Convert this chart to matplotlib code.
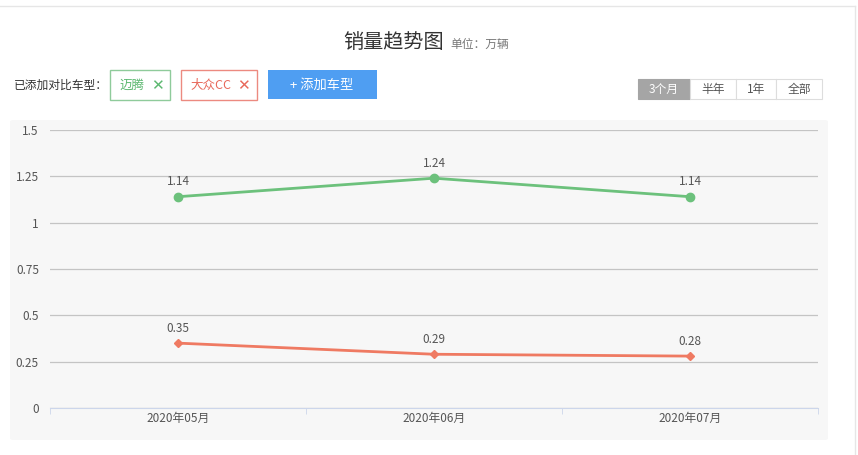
import matplotlib.pyplot as plt
from matplotlib.patches import Rectangle, FancyBboxPatch
from matplotlib.lines import Line2D

plt.rcParams['font.family'] = ['Noto Sans CJK SC', 'DejaVu Sans']

months = ['2020年05月', '2020年06月', '2020年07月']
magotan = [1.14, 1.24, 1.14]
cc = [0.35, 0.29, 0.28]
y_ticks = [0, 0.25, 0.5, 0.75, 1, 1.25, 1.5]
y_labels = ['0', '0.25', '0.5', '0.75', '1', '1.25', '1.5']
ranges = ['3个月', '半年', '1年', '全部']

W, H = 858, 455
fig = plt.figure(figsize=(W / 100, H / 100), dpi=100)


def px(x, y):
    # pixel coords (top-left origin) -> figure fraction
    return x / W, 1 - y / H


def box(x0, y0, x1, y1, **kw):
    fx0, fy1 = px(x0, y1)
    rect = Rectangle((fx0, fy1), (x1 - x0) / W, (y1 - y0) / H,
                     transform=fig.transFigure, **kw)
    fig.patches.append(rect)


# page frame lines
fig.add_artist(Line2D([0, 855 / W], [1 - 6 / H] * 2, color='#e6e6e6', lw=1))
fig.add_artist(Line2D([855 / W] * 2, [0, 1 - 6 / H], color='#e6e6e6', lw=1))

# header
fig.text(*px(394, 42), '销量趋势图', fontsize=14.5, color='#333333', ha='center', va='center')
fig.text(*px(450, 44), '单位：万辆', fontsize=8.5, color='#777777', ha='left', va='center')

fig.text(*px(14, 85), '已添加对比车型：', fontsize=8.5, color='#333333', ha='left', va='center')
box(110, 70, 170, 100, facecolor='white', edgecolor='#8fcb9b', lw=1)
fig.text(*px(132, 85), '迈腾', fontsize=9, color='#5cb870', ha='center', va='center')
fig.text(*px(157, 86), '✕', fontsize=11, color='#5cb870', ha='center', va='center',
         family='DejaVu Sans')
box(181, 70, 257, 100, facecolor='white', edgecolor='#ec8a80', lw=1)
fig.text(*px(211, 85), '大众CC', fontsize=9, color='#e8685a', ha='center', va='center')
fig.text(*px(243, 86), '✕', fontsize=11, color='#e8685a', ha='center', va='center',
         family='DejaVu Sans')
box(268, 70, 377, 99, facecolor='#4f9ef2', edgecolor='none')
fig.text(*px(322, 85), '+ 添加车型', fontsize=9.5, color='white', ha='center', va='center')

edges = [638, 690, 736, 776, 822]
for i, lab in enumerate(ranges):
    x0, x1 = edges[i], edges[i + 1]
    active = i == 0
    box(x0, 79, x1, 99, facecolor='#a5a5a5' if active else 'white',
        edgecolor='#a5a5a5' if active else '#dddddd', lw=0.8)
    fig.text(*px((x0 + x1) / 2, 89), lab, fontsize=8.5,
             color='white' if active else '#555555', ha='center', va='center')

# chart panel background
bx, by = px(10, 440)
panel = FancyBboxPatch((bx, by), 818 / W, 320 / H, boxstyle='round,pad=0,rounding_size=0.004',
                       transform=fig.transFigure, facecolor='#f7f7f7', edgecolor='none',
                       zorder=-1)
fig.patches.append(panel)

ax = fig.add_axes([50 / W, 47 / H, 768 / W, 278 / H])
ax.set_zorder(2)
ax.set_facecolor('none')
x = list(range(len(months)))

ax.plot(x, magotan, color='#6cc17c', lw=2.0, marker='o', markersize=6, zorder=3)
ax.plot(x, cc, color='#ef7a62', lw=2.0, marker='D', markersize=4.5, zorder=3)

for xi, v in zip(x, magotan):
    ax.annotate(f'{v:.2f}', (xi, v), xytext=(0, 6), textcoords='offset points',
                ha='center', va='bottom', fontsize=8.5, color='#555555')
for xi, v in zip(x, cc):
    ax.annotate(f'{v:.2f}', (xi, v), xytext=(0, 6), textcoords='offset points',
                ha='center', va='bottom', fontsize=8.5, color='#555555')

ax.set_xlim(-0.5, 2.5)
ax.set_ylim(0, 1.5)
ax.set_yticks(y_ticks)
ax.set_yticklabels(y_labels)
ax.set_xticks(x)
ax.set_xticklabels(months)
ax.set_xticks([-0.5, 0.5, 1.5, 2.5], minor=True)
ax.tick_params(axis='x', which='major', length=0, pad=3, labelsize=8.5, labelcolor='#555555')
ax.tick_params(axis='x', which='minor', length=4, color='#ccd6eb', direction='out')
ax.tick_params(axis='y', length=0, pad=8, labelsize=8.5, labelcolor='#555555')
ax.grid(axis='y', color='#c4c4c4', lw=0.9)
ax.set_axisbelow(True)
for side in ['top', 'right', 'left']:
    ax.spines[side].set_visible(False)
ax.spines['bottom'].set_color('#ccd6eb')
ax.spines['bottom'].set_zorder(2.5)

fig.savefig('out.png', dpi=100)
